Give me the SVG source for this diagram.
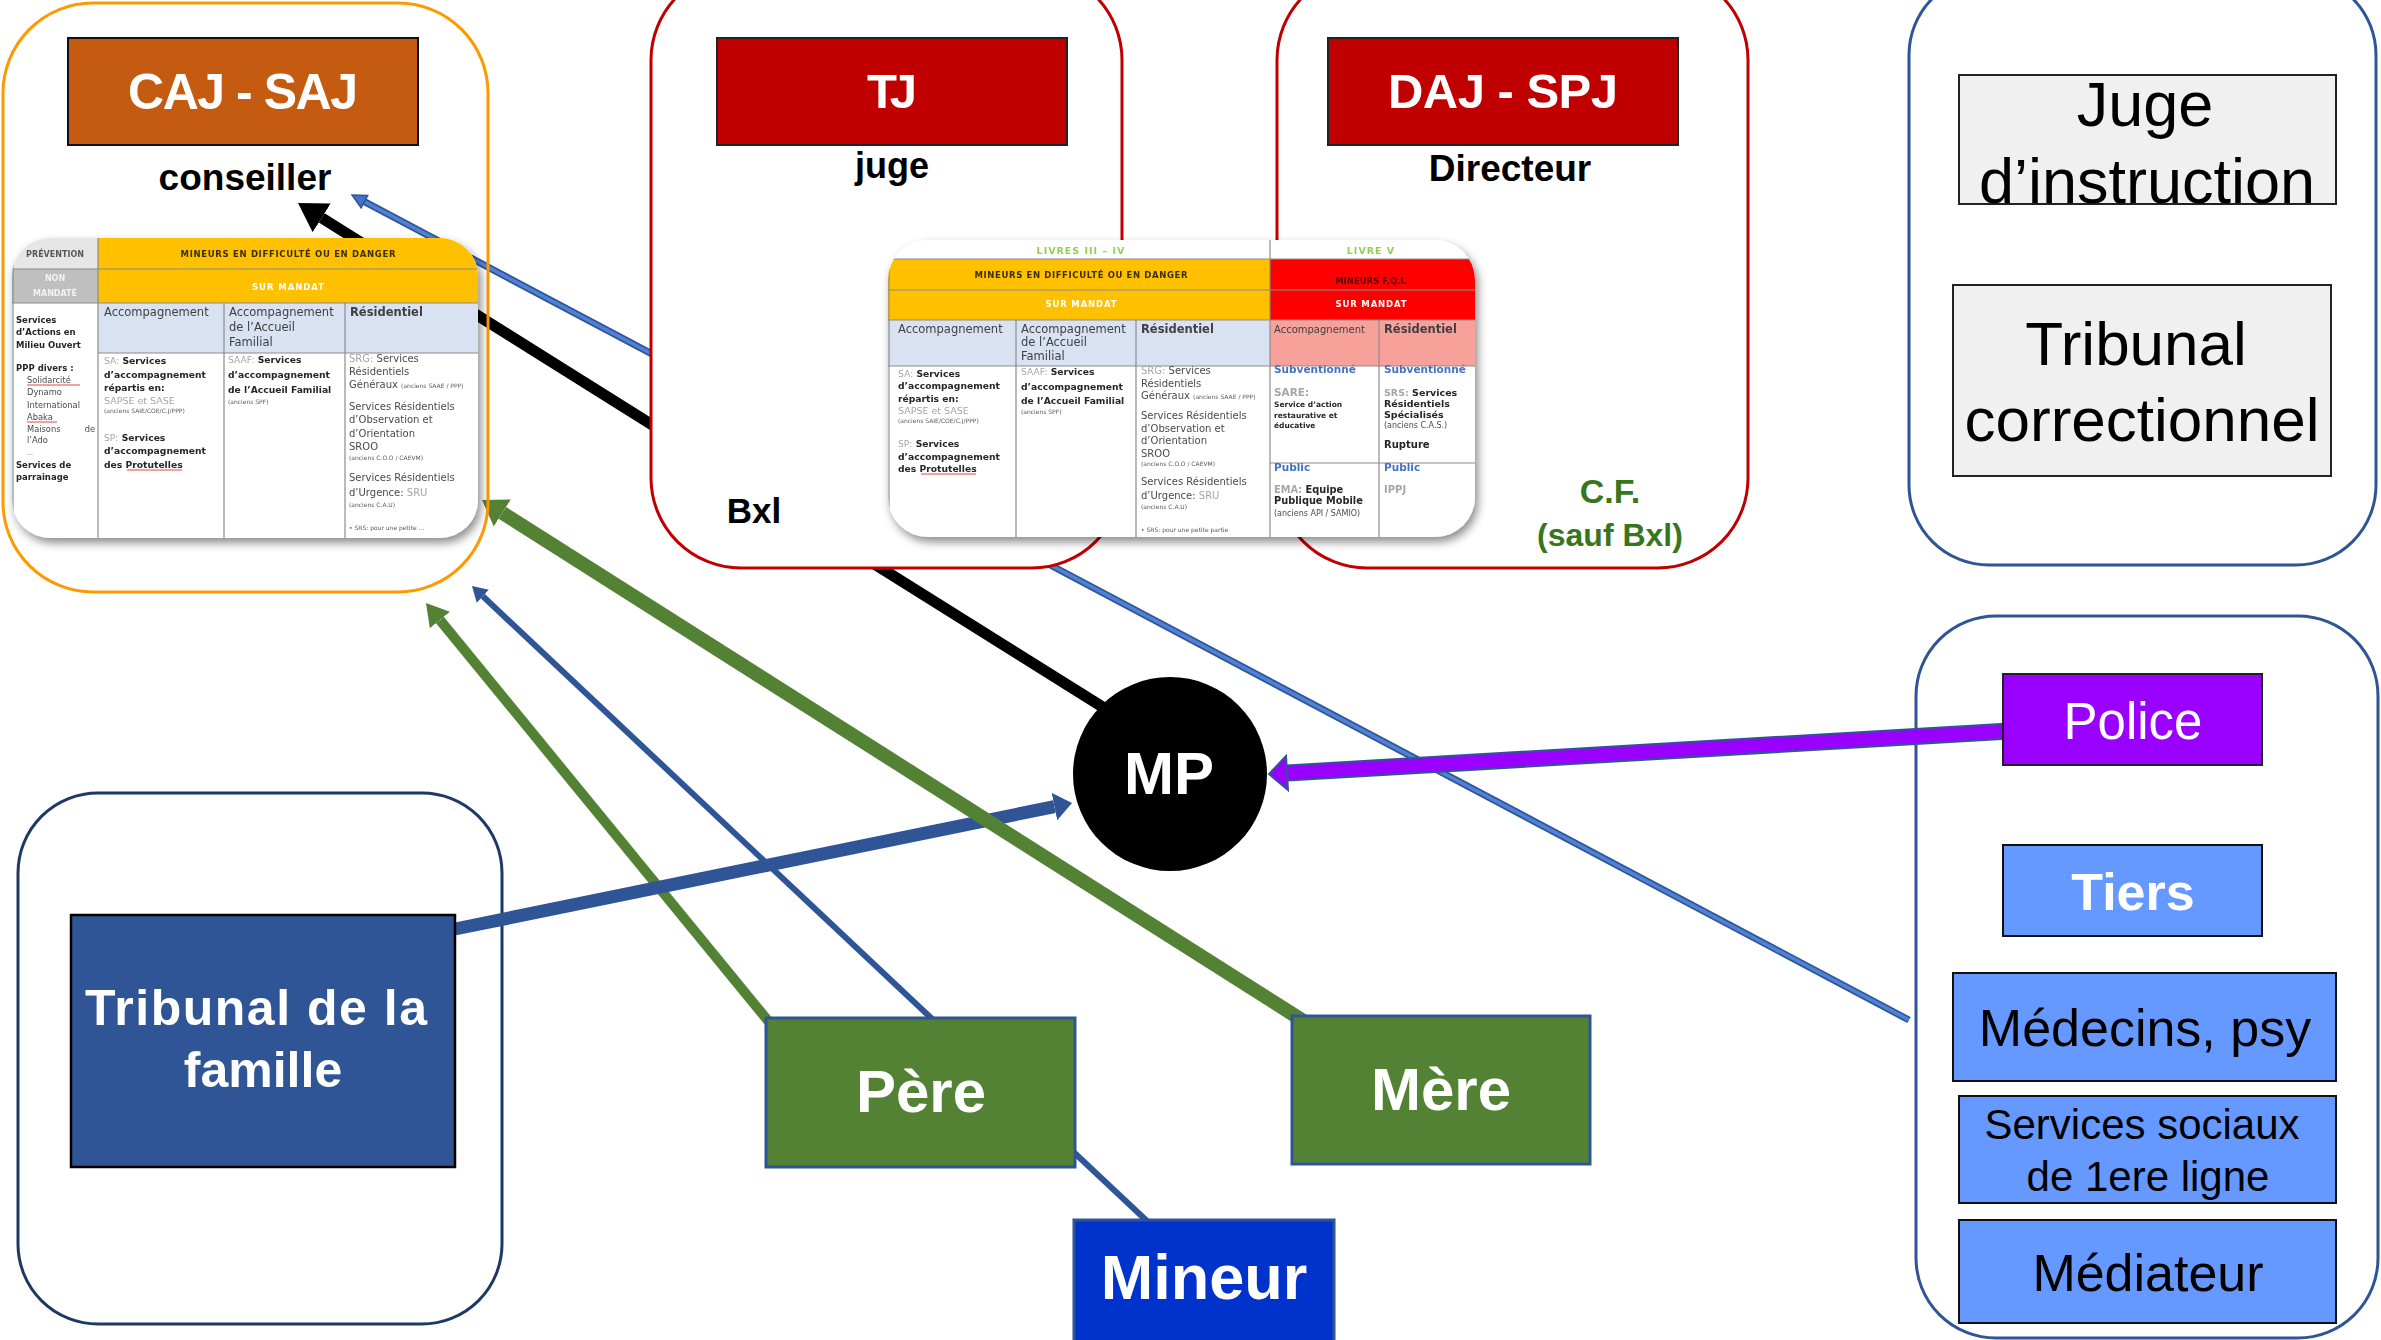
<svg xmlns="http://www.w3.org/2000/svg" width="2381" height="1340" viewBox="0 0 2381 1340">
<defs>
<style>
.zone{stroke-width:3}
.lbl{font-family:"Liberation Sans",Arial,sans-serif;font-weight:bold;text-anchor:middle}
.big{font-family:"Liberation Sans",Arial,sans-serif;text-anchor:middle}
.t{font-family:"DejaVu Sans",Verdana,sans-serif;font-size:9.2px;font-weight:bold;fill:#262626}
.r{font-weight:normal;fill:#4a4a4a}
.g{fill:#A6A6A6;font-weight:normal}
.gb{fill:#A6A6A6}
.th{font-size:11.5px;font-weight:normal;fill:#404040}
.tt{font-size:6px;font-weight:normal;fill:#595959}
.c3{font-size:10px;font-weight:normal;fill:#4a4a4a}
.bl{fill:#4472C4;font-size:10.5px}
.grid{stroke:#8C8C8C;stroke-width:1.2;fill:none}
.ul{stroke:#E03030;stroke-width:0.9}
</style>
<marker id="h-black" markerUnits="userSpaceOnUse" orient="auto" viewBox="0 -18 30 36" markerWidth="30" markerHeight="36" refX="0" refY="0"><path d="M0,-17L28,0L0,17Z" fill="#000"/></marker>
<marker id="h-green-l" markerUnits="userSpaceOnUse" orient="auto" viewBox="0 -17 26 34" markerWidth="26" markerHeight="34" refX="0" refY="0"><path d="M0,-16L24,0L0,16Z" fill="#548235"/></marker>
<marker id="h-green-s" markerUnits="userSpaceOnUse" orient="auto" viewBox="0 -14 24 28" markerWidth="24" markerHeight="28" refX="0" refY="0"><path d="M0,-13L22,0L0,13Z" fill="#548235"/></marker>
<marker id="h-navy-s" markerUnits="userSpaceOnUse" orient="auto" viewBox="0 -10 17 20" markerWidth="17" markerHeight="20" refX="0" refY="0"><path d="M0,-9L15,0L0,9Z" fill="#2F5597"/></marker>
<marker id="h-navy-l" markerUnits="userSpaceOnUse" orient="auto" viewBox="0 -15 20 30" markerWidth="20" markerHeight="30" refX="0" refY="0"><path d="M0,-14L18,0L0,14Z" fill="#2F5597"/></marker>
<marker id="h-sky" markerUnits="userSpaceOnUse" orient="auto" viewBox="-2 -10 18 20" markerWidth="18" markerHeight="20" refX="0" refY="0"><path d="M0,-7L14,0L0,7Z" fill="#4472C4" stroke="#2F5597" stroke-width="1.5"/></marker>
<marker id="h-purple" markerUnits="userSpaceOnUse" orient="auto" viewBox="-2 -19 22 38" markerWidth="22" markerHeight="38" refX="0" refY="0"><path d="M0,-17L18,0L0,17Z" fill="#9900FF" stroke="#2F5597" stroke-width="2"/></marker>
<filter id="shadow" x="-10%" y="-10%" width="125%" height="130%"><feDropShadow dx="3" dy="5" stdDeviation="5" flood-color="#000" flood-opacity="0.45"/></filter>
<clipPath id="clipCaj"><rect x="12" y="238" width="466" height="300" rx="38"/></clipPath>
<clipPath id="clipMid"><rect x="888" y="240" width="587" height="297" rx="40"/></clipPath>
</defs>
<rect width="2381" height="1340" fill="#fff"/>

<!-- background zones -->
<g id="zone-famille"><rect class="zone" x="18" y="793" width="484" height="531" rx="80" fill="none" stroke="#203864"/></g>
<g id="zone-signalants"><rect class="zone" x="1916" y="616" width="462" height="722" rx="80" fill="none" stroke="#2F5597"/></g>
<g id="zone-juge">
<rect class="zone" x="1909" y="-25" width="467" height="590" rx="80" fill="none" stroke="#2F5597"/>
<g id="node-juge-instruction"><rect x="1959" y="75" width="377" height="129" fill="#F0F0F0" stroke="#222" stroke-width="2"/>
<text class="big" x="2145" y="126" font-size="63" fill="#000">Juge</text><text class="big" x="2147" y="203" font-size="63" fill="#000">d’instruction</text></g>
<g id="node-tribunal-correctionnel"><rect x="1953" y="285" width="378" height="191" fill="#F0F0F0" stroke="#222" stroke-width="2"/>
<text class="big" x="2136" y="365" font-size="62" fill="#000">Tribunal</text><text class="big" x="2142" y="441" font-size="62" fill="#000">correctionnel</text></g>
</g>

<!-- connectors -->
<g id="connectors" fill="none" stroke-linecap="butt">
<line x1="1125" y1="721" x2="321.7" y2="217.9" stroke="#000" stroke-width="11" marker-end="url(#h-black)"/>
<line x1="1909" y1="1020" x2="364.4" y2="201.6" stroke="#2F5597" stroke-width="7"/>
<line x1="1909" y1="1020" x2="364.4" y2="201.6" stroke="#4F81D6" stroke-width="3.5" marker-end="url(#h-sky)"/>
<line x1="780.5" y1="1036" x2="439.9" y2="620" stroke="#548235" stroke-width="10" marker-end="url(#h-green-s)"/>
<line x1="1148" y1="1222" x2="482.9" y2="596.3" stroke="#2F5597" stroke-width="6" marker-end="url(#h-navy-s)"/>
<line x1="455" y1="929" x2="1054.4" y2="806.6" stroke="#2F5597" stroke-width="13" marker-end="url(#h-navy-l)"/>
<line x1="1305" y1="1022" x2="502.3" y2="512.9" stroke="#548235" stroke-width="14" marker-end="url(#h-green-l)"/>
<line x1="2010" y1="731" x2="1287" y2="773" stroke="#2F5597" stroke-width="17"/>
<line x1="2010" y1="731" x2="1287" y2="773" stroke="#9900FF" stroke-width="13" marker-end="url(#h-purple)"/>
</g>

<!-- CAJ - SAJ -->
<g id="zone-caj">
<rect class="zone" x="3" y="3" width="485" height="589" rx="90" fill="none" stroke="#FF9900"/>
<g id="node-caj-saj"><rect x="68" y="38" width="350" height="107" fill="#C55A11" stroke="#111" stroke-width="2"/>
<text class="lbl" x="243" y="109" font-size="50" fill="#fff" textLength="230">CAJ - SAJ</text></g>
<text class="lbl" x="245" y="190" font-size="37" fill="#000">conseiller</text>
<g id="table-caj" filter="url(#shadow)">
<g clip-path="url(#clipCaj)">
<rect x="12" y="238" width="466" height="300" fill="#fff"/>
<rect x="12" y="238" width="86" height="31" fill="#E7E6E6"/>
<rect x="98" y="238" width="380" height="65" fill="#FFC000"/>
<rect x="12" y="269" width="86" height="34" fill="#BFBFBF"/>
<rect x="98" y="303" width="380" height="50" fill="#D9E2F3"/>
<path class="grid" d="M12,269H478M12,303H478M98,353H478M98,238V538M224,303V538M345,303V538M13,238V538"/>
<text class="t" x="55" y="257" text-anchor="middle" style="font-size:8px;fill:#595959">PRÉVENTION</text>
<text class="t" x="288" y="257" text-anchor="middle" style="font-size:8.5px;fill:#3A2F00" textLength="215">MINEURS EN DIFFICULTÉ OU EN DANGER</text>
<text class="t" x="55" y="281" text-anchor="middle" style="font-size:8px;fill:#F2F2F2">NON</text>
<text class="t" x="55" y="296" text-anchor="middle" style="font-size:8px;fill:#F2F2F2">MANDATÉ</text>
<text class="t" x="288" y="290" text-anchor="middle" style="font-size:8.5px;fill:#fff" textLength="72">SUR MANDAT</text>
<text class="t th" x="104" y="316">Accompagnement</text>
<text class="t th" x="229" y="316">Accompagnement</text>
<text class="t th" x="229" y="331">de l’Accueil</text>
<text class="t th" x="229" y="346">Familial</text>
<text class="t th" x="350" y="316" style="font-weight:bold">Résidentiel</text>
<text class="t" x="16" y="323" style="font-size:8.5px">Services</text>
<text class="t" x="16" y="335" style="font-size:8.5px">d’Actions en</text>
<text class="t" x="16" y="348" style="font-size:8.5px">Milieu Ouvert</text>
<text class="t" x="16" y="371" style="font-size:8.5px">PPP divers :</text>
<text class="t r" x="27" y="383" style="font-size:8.3px">Solidarcité</text>
<text class="t r" x="27" y="395" style="font-size:8.3px">Dynamo</text>
<text class="t r" x="27" y="408" style="font-size:8.3px">International</text>
<text class="t r" x="27" y="420" style="font-size:8.3px">Abaka</text>
<text class="t r" x="27" y="432" style="font-size:8.3px">Maisons</text>
<text class="t r" x="95" y="432" text-anchor="end" style="font-size:8.3px">de</text>
<text class="t r" x="27" y="443" style="font-size:8.3px">l’Ado</text>
<text class="t r" x="27" y="455" style="font-size:6px">…</text>
<text class="t" x="16" y="468" style="font-size:8.5px">Services de</text>
<text class="t" x="16" y="480" style="font-size:8.5px">parrainage</text>
<path class="ul" d="M27,385H80M27,422H57"/>
<text class="t" x="104" y="364"><tspan class="g">SA:</tspan> Services</text>
<text class="t" x="104" y="378">d’accompagnement</text>
<text class="t" x="104" y="391">répartis en:</text>
<text class="t g" x="104" y="404" style="font-size:9.5px">SAPSE et SASE</text>
<text class="t tt" x="104" y="413">(anciens SAIE/COE/C.J/PPP)</text>
<text class="t" x="104" y="441"><tspan class="g">SP:</tspan> Services</text>
<text class="t" x="104" y="454">d’accompagnement</text>
<text class="t" x="104" y="468">des Protutelles</text>
<path class="ul" d="M127,470H182"/>
<text class="t" x="228" y="363"><tspan class="g">SAAF:</tspan> Services</text>
<text class="t" x="228" y="378">d’accompagnement</text>
<text class="t" x="228" y="393">de l’Accueil Familial</text>
<text class="t tt" x="228" y="404">(anciens SPF)</text>
<text class="t c3" x="349" y="362"><tspan class="g">SRG:</tspan> Services</text>
<text class="t c3" x="349" y="375">Résidentiels</text>
<text class="t c3" x="349" y="388">Généraux <tspan class="tt">(anciens SAAE / PPP)</tspan></text>
<text class="t c3" x="349" y="410">Services Résidentiels</text>
<text class="t c3" x="349" y="423">d’Observation et</text>
<text class="t c3" x="349" y="437">d’Orientation</text>
<text class="t c3 g" x="349" y="450">SROO</text>
<text class="t tt" x="349" y="460">(anciens C.O.O / CAEVM)</text>
<text class="t c3" x="349" y="481">Services Résidentiels</text>
<text class="t c3" x="349" y="496">d’Urgence: <tspan class="g">SRU</tspan></text>
<text class="t tt" x="349" y="507">(anciens C.A.U)</text>
<text class="t tt" x="349" y="530">• SRS: pour une petite …</text>
</g>
</g>
</g>

<!-- TJ -->
<g id="zone-tj">
<rect class="zone" x="651" y="-30" width="471" height="598" rx="90" fill="#fff" stroke="#C00000"/>
<g id="node-tj"><rect x="717" y="38" width="350" height="107" fill="#C00000" stroke="#222" stroke-width="2"/>
<text class="lbl" x="892" y="108" font-size="49" fill="#fff" textLength="50">TJ</text></g>
<text class="lbl" x="892" y="178" font-size="36" fill="#000">juge</text>
<text class="lbl" x="754" y="523" font-size="35" fill="#000">Bxl</text>
</g>

<!-- DAJ - SPJ -->
<g id="zone-daj">
<rect class="zone" x="1277" y="-30" width="471" height="598" rx="90" fill="#fff" stroke="#C00000"/>
<g id="node-daj-spj"><rect x="1328" y="38" width="350" height="107" fill="#C00000" stroke="#222" stroke-width="2"/>
<text class="lbl" x="1503" y="108" font-size="49" fill="#fff" textLength="230">DAJ - SPJ</text></g>
<text class="lbl" x="1510" y="181" font-size="37" fill="#000">Directeur</text>
<text class="lbl" x="1610" y="503" font-size="34" fill="#38761D">C.F.</text>
<text class="lbl" x="1610" y="546" font-size="32" fill="#38761D">(sauf Bxl)</text>
</g>

<!-- middle table -->
<g id="table-livres" filter="url(#shadow)">
<g clip-path="url(#clipMid)">
<rect x="888" y="240" width="587" height="297" fill="#fff"/>
<rect x="888" y="259" width="382" height="61" fill="#FFC000"/>
<rect x="1270" y="259" width="205" height="61" fill="#FF0000"/>
<rect x="888" y="320" width="382" height="46" fill="#D9E2F3"/>
<rect x="1270" y="320" width="205" height="46" fill="#F8A09A"/>
<path class="grid" d="M888,259H1475M888,290H1475M888,320H1475M888,366H1475M1270,463H1475M1270,240V537M1016,320V537M1136,320V537M1379,320V537M889,259V537"/>
<text class="t" x="1081" y="254" text-anchor="middle" letter-spacing="1" style="font-size:9.5px;fill:#92D050">LIVRES III – IV</text>
<text class="t" x="1371" y="254" text-anchor="middle" letter-spacing="1" style="font-size:9.5px;fill:#92D050">LIVRE V</text>
<text class="t" x="1081" y="278" text-anchor="middle" style="font-size:8.5px;fill:#3A2F00" textLength="213">MINEURS EN DIFFICULTÉ OU EN DANGER</text>
<text class="t" x="1371" y="284" text-anchor="middle" style="font-size:8.5px;fill:#5A0000">MINEURS F.Q.I.</text>
<text class="t" x="1081" y="307" text-anchor="middle" style="font-size:8.5px;fill:#fff" textLength="71">SUR MANDAT</text>
<text class="t" x="1371" y="307" text-anchor="middle" style="font-size:8.5px;fill:#fff" textLength="71">SUR MANDAT</text>
<text class="t th" x="898" y="333">Accompagnement</text>
<text class="t th" x="1021" y="333">Accompagnement</text>
<text class="t th" x="1021" y="346">de l’Accueil</text>
<text class="t th" x="1021" y="360">Familial</text>
<text class="t th" x="1141" y="333" style="font-weight:bold">Résidentiel</text>
<text class="t th" x="1274" y="333" style="font-size:10px">Accompagnement</text>
<text class="t th" x="1384" y="333" style="font-weight:bold">Résidentiel</text>
<text class="t" x="898" y="377"><tspan class="g">SA:</tspan> Services</text>
<text class="t" x="898" y="389">d’accompagnement</text>
<text class="t" x="898" y="402">répartis en:</text>
<text class="t g" x="898" y="414" style="font-size:9.5px">SAPSE et SASE</text>
<text class="t tt" x="898" y="423">(anciens SAIE/COE/C.J/PPP)</text>
<text class="t" x="898" y="447"><tspan class="g">SP:</tspan> Services</text>
<text class="t" x="898" y="460">d’accompagnement</text>
<text class="t" x="898" y="472">des Protutelles</text>
<path class="ul" d="M921,474H976"/>
<text class="t" x="1021" y="375"><tspan class="g">SAAF:</tspan> Services</text>
<text class="t" x="1021" y="390">d’accompagnement</text>
<text class="t" x="1021" y="404">de l’Accueil Familial</text>
<text class="t tt" x="1021" y="414">(anciens SPF)</text>
<text class="t c3" x="1141" y="374"><tspan class="g">SRG:</tspan> Services</text>
<text class="t c3" x="1141" y="387">Résidentiels</text>
<text class="t c3" x="1141" y="399">Généraux <tspan class="tt">(anciens SAAE / PPP)</tspan></text>
<text class="t c3" x="1141" y="419">Services Résidentiels</text>
<text class="t c3" x="1141" y="432">d’Observation et</text>
<text class="t c3" x="1141" y="444">d’Orientation</text>
<text class="t c3 g" x="1141" y="457">SROO</text>
<text class="t tt" x="1141" y="466">(anciens C.O.O / CAEVM)</text>
<text class="t c3" x="1141" y="485">Services Résidentiels</text>
<text class="t c3" x="1141" y="499">d’Urgence: <tspan class="g">SRU</tspan></text>
<text class="t tt" x="1141" y="509">(anciens C.A.U)</text>
<text class="t tt" x="1141" y="532">• SRS: pour une petite partie</text>
<text class="t bl" x="1274" y="373">Subventionné</text>
<text class="t gb" x="1274" y="396" style="font-size:10.5px">SARE:</text>
<text class="t" x="1274" y="407" style="font-size:7.5px">Service d’action</text>
<text class="t" x="1274" y="418" style="font-size:7.5px">restaurative et</text>
<text class="t" x="1274" y="428" style="font-size:7.5px">éducative</text>
<text class="t bl" x="1274" y="471">Public</text>
<text class="t" x="1274" y="493" style="font-size:9.8px"><tspan class="gb">EMA:</tspan> Equipe</text>
<text class="t" x="1274" y="504" style="font-size:9.8px">Publique Mobile</text>
<text class="t r" x="1274" y="516" style="font-size:8px">(anciens API / SAMIO)</text>
<text class="t bl" x="1384" y="373">Subventionné</text>
<text class="t" x="1384" y="396" style="font-size:9.5px"><tspan class="gb">SRS:</tspan> Services</text>
<text class="t" x="1384" y="407" style="font-size:9.5px">Résidentiels</text>
<text class="t" x="1384" y="418" style="font-size:9.5px">Spécialisés</text>
<text class="t r" x="1384" y="428" style="font-size:8px">(anciens C.A.S.)</text>
<text class="t" x="1384" y="448" style="font-size:10px">Rupture</text>
<text class="t bl" x="1384" y="471">Public</text>
<text class="t gb" x="1384" y="493" style="font-size:10px">IPPJ</text>
</g>
</g>

<!-- nodes -->
<g id="node-tribunal-famille"><rect x="71" y="915" width="384" height="252" fill="#2F5597" stroke="#000" stroke-width="2.5"/>
<text class="lbl" x="256" y="1025" font-size="50" fill="#fff" textLength="342">Tribunal de la</text>
<text class="lbl" x="263" y="1087" font-size="50" fill="#fff">famille</text></g>
<g id="node-pere"><rect x="766" y="1018" width="309" height="149" fill="#548235" stroke="#2F5597" stroke-width="3"/>
<text class="lbl" x="921" y="1112" font-size="60" fill="#fff">Père</text></g>
<g id="node-mere"><rect x="1292" y="1016" width="298" height="148" fill="#548235" stroke="#2F5597" stroke-width="3"/>
<text class="lbl" x="1441" y="1110" font-size="60" fill="#fff">Mère</text></g>
<g id="node-mineur"><rect x="1074" y="1220" width="260" height="130" fill="#0033CC" stroke="#2F5597" stroke-width="3"/>
<text class="lbl" x="1204" y="1299" font-size="63" fill="#fff">Mineur</text></g>
<g id="node-mp"><circle cx="1170" cy="774" r="97" fill="#000"/>
<text class="lbl" x="1169" y="794" font-size="60" fill="#fff">MP</text></g>
<g id="node-police"><rect x="2003" y="674" width="259" height="91" fill="#9900FF" stroke="#222" stroke-width="2"/>
<text class="big" x="2133" y="739" font-size="51" fill="#fff">Police</text></g>
<g id="node-tiers"><rect x="2003" y="845" width="259" height="91" fill="#6699FF" stroke="#111" stroke-width="2"/>
<text class="lbl" x="2133" y="910" font-size="52" fill="#fff">Tiers</text></g>
<g id="node-medecins"><rect x="1953" y="973" width="383" height="108" fill="#6699FF" stroke="#111" stroke-width="2"/>
<text class="big" x="2145" y="1046" font-size="52" fill="#000">Médecins, psy</text></g>
<g id="node-services-sociaux"><rect x="1959" y="1096" width="377" height="107" fill="#6699FF" stroke="#111" stroke-width="2"/>
<text class="big" x="2142" y="1139" font-size="42" fill="#000">Services sociaux</text>
<text class="big" x="2148" y="1191" font-size="42" fill="#000">de 1ere ligne</text></g>
<g id="node-mediateur"><rect x="1959" y="1220" width="377" height="103" fill="#6699FF" stroke="#111" stroke-width="2"/>
<text class="big" x="2148" y="1291" font-size="52" fill="#000">Médiateur</text></g>
</svg>
